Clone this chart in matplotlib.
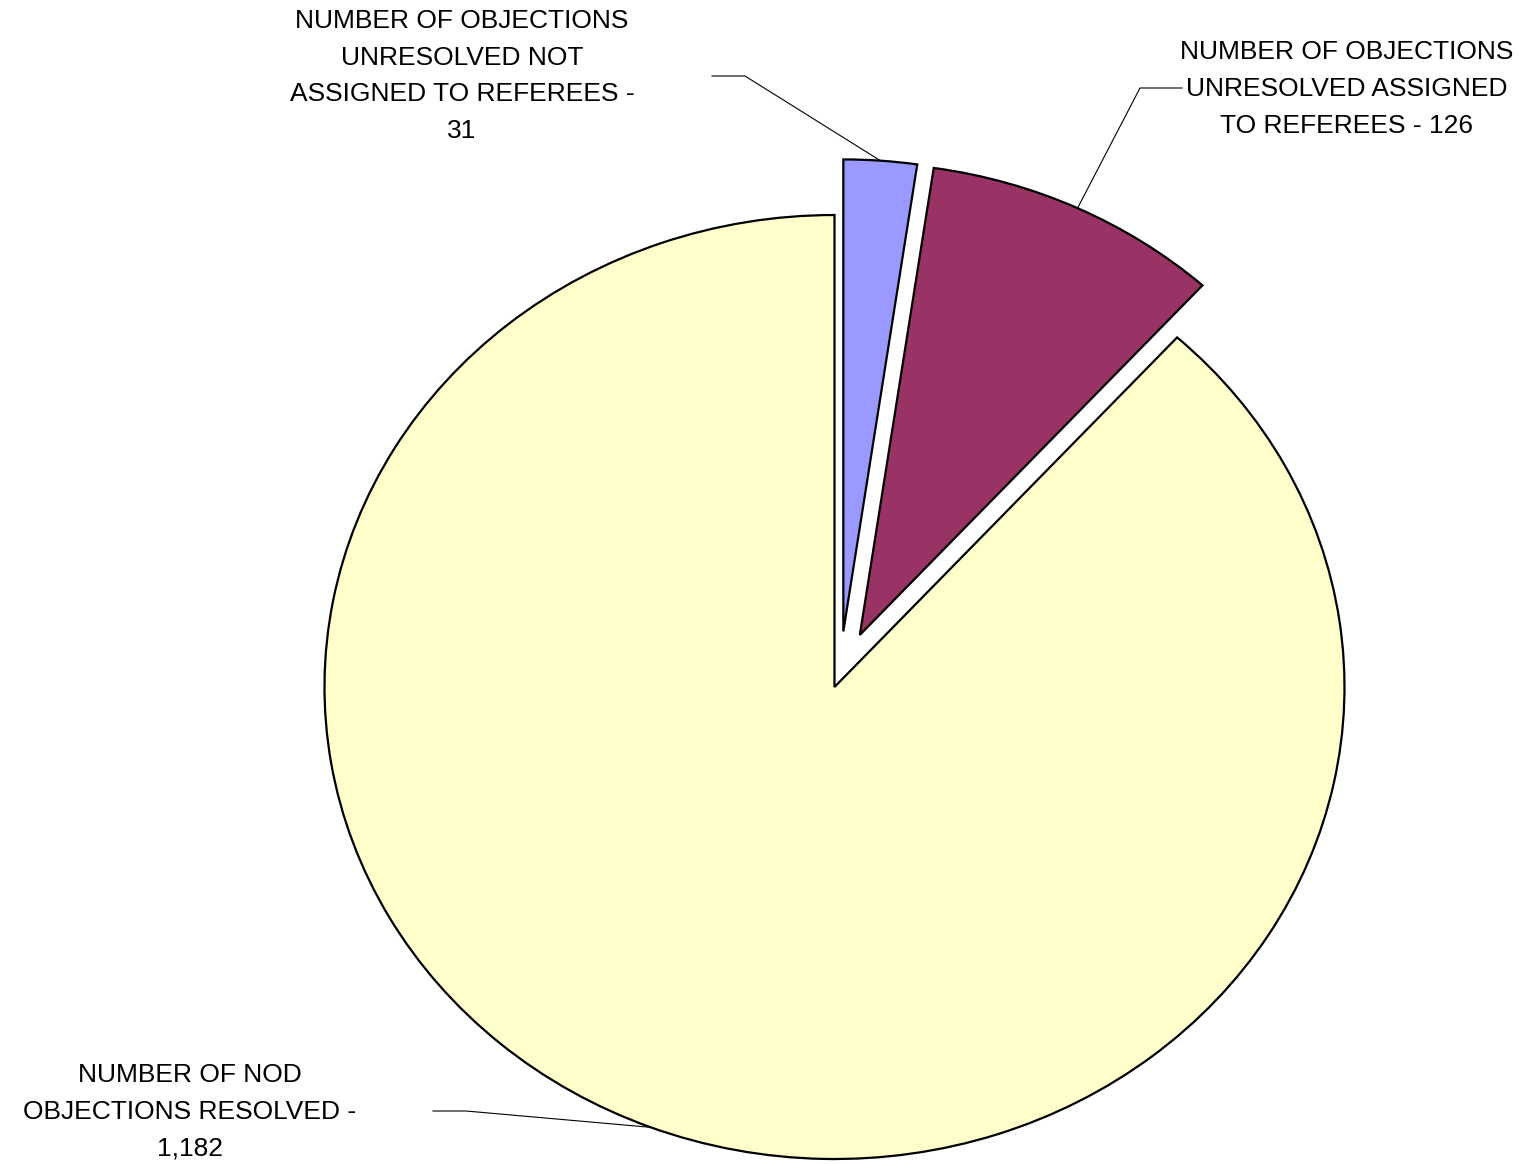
import matplotlib.pyplot as plt
import numpy as np

# slice data (clockwise from 12 o'clock)
labels = [
    "NUMBER OF OBJECTIONS\nUNRESOLVED NOT\nASSIGNED TO REFEREES -\n31",
    "NUMBER OF OBJECTIONS\nUNRESOLVED ASSIGNED\nTO REFEREES - 126",
    "NUMBER OF NOD\nOBJECTIONS RESOLVED -\n1,182",
]
values = [31, 126, 1182]
colors = ["#9999FF", "#993366", "#FFFFCC"]
explode = [0.09, 0.091, 0.03]

# label centres and leader-line elbows, in pixels from top-left
label_pos = [(462, 76), (1347, 89), (190, 1112)]
leader_start = [(712, 76), (1182, 88), (433, 1111)]
leader_elbow = [(745, 76), (1140, 88), (466, 1111)]

W, H = 1520, 1164
fig = plt.figure(figsize=(W / 100, H / 100), dpi=100)
ax = fig.add_axes([0, 0, 1, 1])

wedges, _ = ax.pie(values, colors=colors, explode=explode, startangle=90,
                   counterclock=False,
                   wedgeprops=dict(edgecolor="black", linewidth=1.6))

# the pie is slightly squashed: radius 1 -> 510 px wide, 472 px tall
ax.set_aspect("auto")
cx, cy, rx, ry = 840, 673.8, 510, 472
ax.set_xlim(-cx / rx, (W - cx) / rx)
ax.set_ylim(-(H - cy) / ry, cy / ry)
ax.axis("off")


def px(x, y):
    return (x - cx) / rx, (cy - y) / ry


for w, lab, lp, ls, le in zip(wedges, labels, label_pos, leader_start, leader_elbow):
    mid = np.deg2rad((w.theta1 + w.theta2) / 2)
    ox, oy = w.center
    tip = (ox + w.r * np.cos(mid), oy + w.r * np.sin(mid))
    p0, p1 = px(*ls), px(*le)
    ax.plot([p0[0], p1[0], tip[0]], [p0[1], p1[1], tip[1]],
            color="black", lw=0.8, zorder=0.5)
    tx, ty = px(*lp)
    ax.text(tx, ty, lab, ha="center", va="center", multialignment="center",
            fontsize=19, family="Liberation Sans", linespacing=1.68)

fig.savefig("out.png", dpi=100)
